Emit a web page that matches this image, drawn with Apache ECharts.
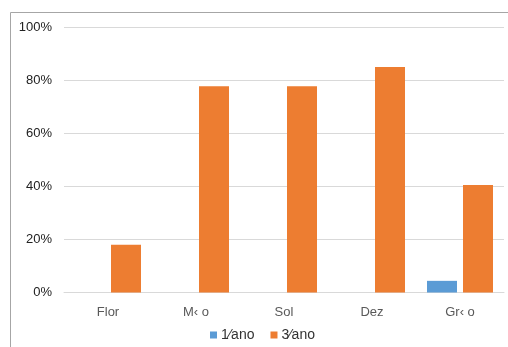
<!DOCTYPE html>
<html>
<head>
<meta charset="utf-8">
<style>
  html, body { margin: 0; padding: 0; background: #fff; }
  #chart { width: 508px; height: 347px; }
</style>
<script src="https://cdn.jsdelivr.net/npm/echarts@6/dist/echarts.min.js"></script>
</head>
<body>
<div id="chart"></div>
<script>
// Categories and series values (percent)
const categories = ['Flor', 'M\u2039 o', 'Sol', 'Dez', 'Gr\u2039 o'];
const seriesNames = ['1\u2044ano', '3\u2044ano'];
const firstYear = [null, null, null, null, 4.4];
const thirdYear = [18.0, 77.8, 77.8, 85.1, 40.6];
const yTicks = [0, 20, 40, 60, 80, 100];

const chart = echarts.init(document.getElementById('chart'), null, { renderer: 'canvas' });

const font = '"Liberation Sans", Arial, Helvetica, sans-serif';

chart.setOption({
  animation: false,
  backgroundColor: '#fff',
  graphic: [{
    type: 'rect',
    shape: { x: 10.5, y: 12.5, width: 600, height: 400 },
    style: { fill: 'none', stroke: '#a6a6a6', lineWidth: 1 },
    silent: true
  }],
  grid: { left: 64, right: 4, top: 27.5, bottom: 54.5, containLabel: false },
  legend: {
    left: 205,
    top: 323,
    itemWidth: 7,
    itemHeight: 7,
    itemGap: 16,
    icon: 'rect',
    data: seriesNames,
    textStyle: { fontFamily: font, fontSize: 14, color: '#333', padding: [0, 0, 0, -1] }
  },
  xAxis: {
    type: 'category',
    data: categories,
    axisLine: { show: true, lineStyle: { color: '#d9d9d9', width: 1 } },
    axisTick: { show: false },
    axisLabel: { fontFamily: font, fontSize: 13, color: '#595959', margin: 13 }
  },
  yAxis: {
    type: 'value',
    min: yTicks[0],
    max: yTicks[yTicks.length - 1],
    interval: 20,
    axisLine: { show: false },
    axisTick: { show: false },
    splitLine: { lineStyle: { color: '#d9d9d9', width: 1 } },
    axisLabel: {
      fontFamily: font, fontSize: 13, color: '#222', margin: 12,
      formatter: v => v + '%'
    }
  },
  series: [
    {
      name: seriesNames[0],
      type: 'bar',
      data: firstYear,
      barWidth: 30,
      barGap: '20%',
      itemStyle: { color: '#5b9bd5' }
    },
    {
      name: seriesNames[1],
      type: 'bar',
      data: thirdYear,
      barWidth: 30,
      barGap: '20%',
      itemStyle: { color: '#ed7d31' }
    }
  ]
});
</script>
</body>
</html>
